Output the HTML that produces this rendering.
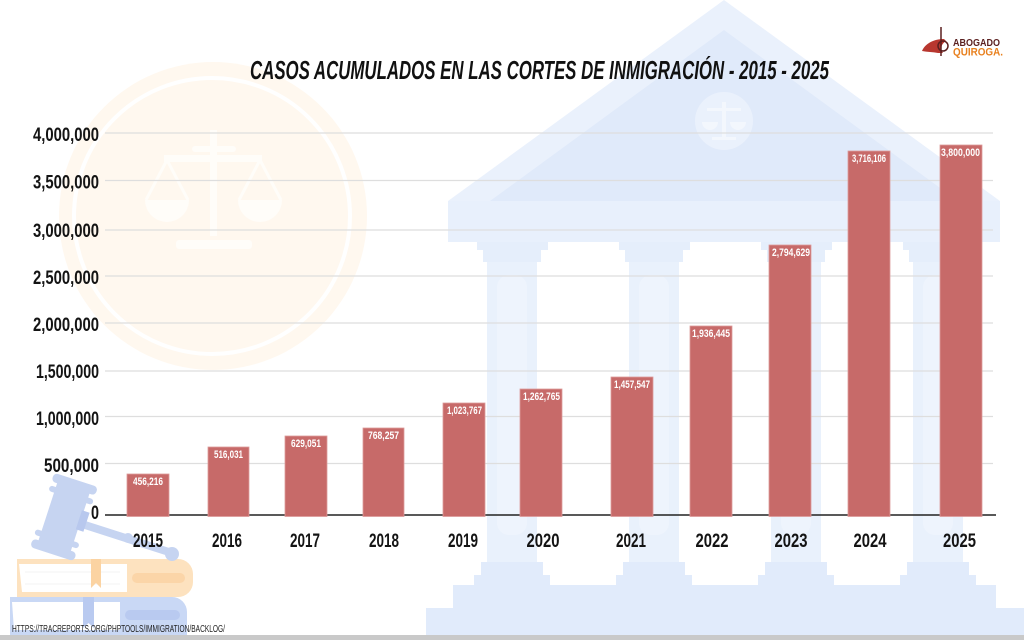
<!DOCTYPE html>
<html><head><meta charset="utf-8"><style>
html,body{margin:0;padding:0;background:#fff;}
svg{display:block;}
text{font-family:"Liberation Sans",sans-serif;}
</style></head><body>
<svg width="1024" height="640" viewBox="0 0 1024 640" xmlns="http://www.w3.org/2000/svg">
<rect x="0" y="0" width="1024" height="640" fill="#ffffff"/>

<!-- watermark circle with scales -->
<circle cx="213" cy="216" r="154" fill="#fff8ef"/>
<circle cx="212" cy="216" r="138" fill="none" stroke="#ffffff" stroke-width="4"/>
<g fill="#fffdf9" stroke="none">
  <rect x="210" y="130" width="7" height="106"/>
  <rect x="192" y="146" width="44" height="6" rx="3"/>
  <rect x="164" y="155" width="98" height="7"/>
  <rect x="176" y="240" width="76" height="9" rx="3"/>
  <path d="M145 200 A22 22 0 0 0 189 200 Z"/>
  <path d="M238 200 A22 22 0 0 0 282 200 Z"/>
</g>
<g stroke="#fffdf9" stroke-width="3" fill="none">
  <path d="M167 160 L146 200 M167 160 L188 200"/>
  <path d="M260 160 L239 200 M260 160 L281 200"/>
</g>

<!-- building -->
<g>
  <polygon points="724,0 1000,201 448,201" fill="#eaf1fc"/>
  <polygon points="724,30 958,201 490,201" fill="#e0eafa"/>
  <circle cx="724" cy="121" r="29" fill="#eaf1fc"/>
  <g fill="#f3f7fd">
    <rect x="722" y="102" width="4" height="36"/>
    <rect x="707" y="108" width="34" height="3"/>
    <path d="M702 122 A8 8 0 0 0 718 122 Z"/>
    <path d="M730 122 A8 8 0 0 0 746 122 Z"/>
    <rect x="712" y="137" width="24" height="3"/>
  </g>
  <rect x="448" y="201" width="552" height="41" fill="#e8f0fc"/>
  <g fill="#e5eefb">
    <rect x="477" y="242" width="71" height="8"/>
    <rect x="483" y="250" width="58" height="12"/>
    <rect x="619" y="242" width="71" height="8"/>
    <rect x="625" y="250" width="58" height="12"/>
    <rect x="761" y="242" width="71" height="8"/>
    <rect x="767" y="250" width="58" height="12"/>
    <rect x="903" y="242" width="71" height="8"/>
    <rect x="909" y="250" width="58" height="12"/>
  </g>
  <g fill="#e9f1fc">
    <rect x="487" y="262" width="50" height="300"/>
    <rect x="629" y="262" width="50" height="300"/>
    <rect x="771" y="262" width="50" height="300"/>
    <rect x="913" y="262" width="50" height="300"/>
  </g>
  <g fill="#eef4fd">
    <rect x="497" y="275" width="30" height="260" rx="12"/>
    <rect x="639" y="275" width="30" height="260" rx="12"/>
    <rect x="781" y="275" width="30" height="260" rx="12"/>
    <rect x="923" y="275" width="30" height="260" rx="12"/>
  </g>
  <g fill="#e1ebfb">
    <rect x="481" y="562" width="62" height="13"/>
    <rect x="474" y="575" width="76" height="10"/>
    <rect x="623" y="562" width="62" height="13"/>
    <rect x="616" y="575" width="76" height="10"/>
    <rect x="765" y="562" width="62" height="13"/>
    <rect x="758" y="575" width="76" height="10"/>
    <rect x="907" y="562" width="62" height="13"/>
    <rect x="900" y="575" width="76" height="10"/>
    <rect x="453" y="585" width="543" height="23"/>
    <rect x="426" y="608" width="598" height="32"/>
  </g>
</g>

<!-- gridlines -->
<g stroke="#dedede" stroke-width="1.3">
  <line x1="105" y1="133" x2="993" y2="133"/>
  <line x1="105" y1="180.5" x2="993" y2="180.5"/>
  <line x1="105" y1="230" x2="993" y2="230"/>
  <line x1="105" y1="276" x2="993" y2="276"/>
  <line x1="105" y1="323" x2="993" y2="323"/>
  <line x1="105" y1="371" x2="993" y2="371"/>
  <line x1="105" y1="416.5" x2="993" y2="416.5"/>
  <line x1="105" y1="463.5" x2="993" y2="463.5"/>
</g>

<!-- gavel and books -->
<g>
  <path d="M10 597 H172 A15 15 0 0 1 187 612 V635 H10 Z" fill="#c9d8f5"/>
  <path d="M12 602 H120 V630 H14 Z" fill="#ffffff"/>
  <rect x="125" y="610" width="55" height="10" rx="5" fill="#b9caf0"/>
  <path d="M83 597 H94 V628 L88.5 623 L83 628 Z" fill="#b9caf0"/>
  <path d="M17 559 H178 A15 15 0 0 1 193 574 V582 A15 15 0 0 1 178 597 H17 Z" fill="#fde2bf"/>
  <path d="M19 564 H127 V592 H22 Z" fill="#ffffff"/>
  <g stroke="#f3f3f3" stroke-width="1"><line x1="25" y1="572" x2="120" y2="572"/><line x1="25" y1="584" x2="120" y2="584"/></g>
  <rect x="132" y="573" width="53" height="10" rx="5" fill="#fbd5a8"/>
  <path d="M91 559 H101 V588 L96 583 L91 588 Z" fill="#fbd3a2"/>
  <line x1="85" y1="525" x2="172" y2="553" stroke="#c6d4f1" stroke-width="8" stroke-linecap="round"/>
  <circle cx="128" cy="538" r="5" fill="#c6d4f1"/>
  <circle cx="172" cy="554" r="7" fill="#c6d4f1"/>
  <g transform="rotate(18 64 517)" fill="#c6d4f1">
    <rect x="47" y="484" width="34" height="66"/>
    <rect x="41" y="478" width="46" height="9" rx="4"/>
    <rect x="41" y="491" width="46" height="6" rx="3"/>
    <rect x="41" y="537" width="46" height="6" rx="3"/>
    <rect x="41" y="547" width="46" height="9" rx="4"/>
    <rect x="79" y="505" width="8" height="20" fill="#b8c8ee"/>
  </g>
</g>

<!-- axis line -->
<line x1="105" y1="515" x2="996" y2="515" stroke="#222222" stroke-width="1.5"/>

<!-- bars -->
<g fill="#c76a69" stroke="#dd9c9b" stroke-width="0.8">
  <rect x="127" y="474" width="42" height="42.5"/>
  <rect x="208" y="447" width="41" height="69.5"/>
  <rect x="285" y="436" width="42" height="80.5"/>
  <rect x="363" y="428" width="41" height="88.5"/>
  <rect x="443" y="403" width="42" height="113.5"/>
  <rect x="520" y="389" width="42" height="127.5"/>
  <rect x="611" y="377" width="42" height="139.5"/>
  <rect x="690" y="326" width="42" height="190.5"/>
  <rect x="769" y="245" width="42" height="271.5"/>
  <rect x="848" y="151" width="42" height="365.5"/>
  <rect x="940" y="145" width="42" height="371.5"/>
</g>

<!-- bar labels -->
<g fill="#ffffff" font-weight="bold" font-size="11" text-anchor="middle">
  <text x="148" y="485" textLength="30" lengthAdjust="spacingAndGlyphs">456,216</text>
  <text x="228.5" y="458" textLength="29" lengthAdjust="spacingAndGlyphs">516,031</text>
  <text x="306" y="447" textLength="30" lengthAdjust="spacingAndGlyphs">629,051</text>
  <text x="383.5" y="439" textLength="31" lengthAdjust="spacingAndGlyphs">768,257</text>
  <text x="464.5" y="414" textLength="35" lengthAdjust="spacingAndGlyphs">1,023,767</text>
  <text x="541.5" y="400" textLength="37" lengthAdjust="spacingAndGlyphs">1,262,765</text>
  <text x="632" y="388" textLength="36" lengthAdjust="spacingAndGlyphs">1,457,547</text>
  <text x="711" y="337" textLength="38" lengthAdjust="spacingAndGlyphs">1,936,445</text>
  <text x="791" y="256" textLength="38" lengthAdjust="spacingAndGlyphs">2,794,629</text>
  <text x="869" y="162" textLength="34" lengthAdjust="spacingAndGlyphs">3,716,106</text>
  <text x="960.5" y="156" textLength="39" lengthAdjust="spacingAndGlyphs">3,800,000</text>
</g>

<!-- y axis labels -->
<g fill="#141414" font-size="19" font-weight="bold" text-anchor="end">
  <text x="99" y="141" textLength="66" lengthAdjust="spacingAndGlyphs">4,000,000</text>
  <text x="99" y="188.5" textLength="66" lengthAdjust="spacingAndGlyphs">3,500,000</text>
  <text x="99" y="237" textLength="66" lengthAdjust="spacingAndGlyphs">3,000,000</text>
  <text x="99" y="284" textLength="66" lengthAdjust="spacingAndGlyphs">2,500,000</text>
  <text x="99" y="331" textLength="66" lengthAdjust="spacingAndGlyphs">2,000,000</text>
  <text x="99" y="378" textLength="63" lengthAdjust="spacingAndGlyphs">1,500,000</text>
  <text x="99" y="425" textLength="63" lengthAdjust="spacingAndGlyphs">1,000,000</text>
  <text x="99" y="472" textLength="55" lengthAdjust="spacingAndGlyphs">500,000</text>
  <text x="99" y="519" textLength="8" lengthAdjust="spacingAndGlyphs">0</text>
</g>

<!-- x axis labels -->
<g fill="#141414" font-size="19" font-weight="bold" text-anchor="middle">
  <text x="148" y="547" textLength="30" lengthAdjust="spacingAndGlyphs">2015</text>
  <text x="227" y="547" textLength="30" lengthAdjust="spacingAndGlyphs">2016</text>
  <text x="305" y="547" textLength="30" lengthAdjust="spacingAndGlyphs">2017</text>
  <text x="384" y="547" textLength="30" lengthAdjust="spacingAndGlyphs">2018</text>
  <text x="463" y="547" textLength="30" lengthAdjust="spacingAndGlyphs">2019</text>
  <text x="543" y="547" textLength="33" lengthAdjust="spacingAndGlyphs">2020</text>
  <text x="631" y="547" textLength="30" lengthAdjust="spacingAndGlyphs">2021</text>
  <text x="712" y="547" textLength="33" lengthAdjust="spacingAndGlyphs">2022</text>
  <text x="791" y="547" textLength="33" lengthAdjust="spacingAndGlyphs">2023</text>
  <text x="870" y="547" textLength="33" lengthAdjust="spacingAndGlyphs">2024</text>
  <text x="959.5" y="547" textLength="33" lengthAdjust="spacingAndGlyphs">2025</text>
</g>

<!-- title -->
<text x="250" y="79" font-size="26" font-weight="bold" font-style="italic" fill="#111111" textLength="579" lengthAdjust="spacingAndGlyphs">CASOS ACUMULADOS EN LAS CORTES DE INMIGRACIÓN - 2015 - 2025</text>

<!-- logo -->
<g>
  <path d="M922 51 C925 44 933 39 944 39 L946 41 C941 44 940 49 943 53 L938 53 C933 52 927 52 922 51 Z" fill="#b8372f"/>
  <line x1="941" y1="27" x2="941" y2="56" stroke="#5a1f1f" stroke-width="1.5"/>
  <circle cx="943" cy="46" r="5" fill="none" stroke="#5a1f1f" stroke-width="1.5"/>
  <text x="953" y="46" font-size="10" font-weight="bold" fill="#5a1f1f" textLength="47" lengthAdjust="spacingAndGlyphs">ABOGADO</text>
  <text x="953" y="55.5" font-size="11" font-weight="bold" fill="#e8801e" textLength="50" lengthAdjust="spacingAndGlyphs">QUIROGA.</text>
</g>

<!-- source -->
<text x="12" y="632" font-size="10" fill="#222222" textLength="213" lengthAdjust="spacingAndGlyphs">HTTPS://TRACREPORTS.ORG/PHPTOOLS/IMMIGRATION/BACKLOG/</text>

<!-- bottom strip -->
<rect x="0" y="635" width="1024" height="5" fill="#c9c9c9"/>
</svg>
</body></html>
